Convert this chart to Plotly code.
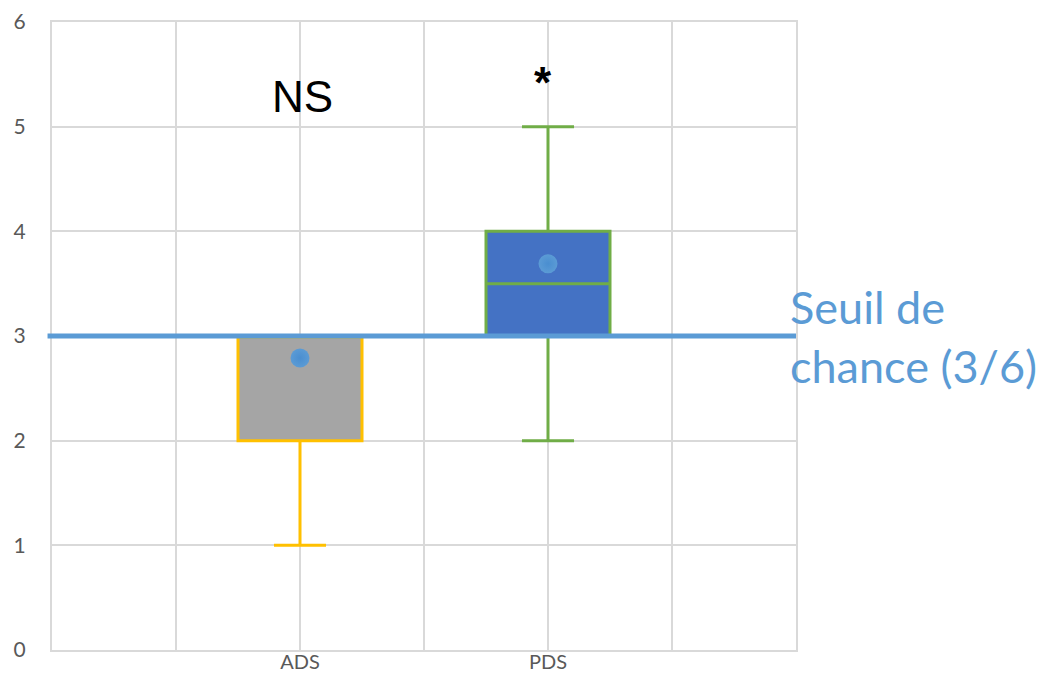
import plotly.graph_objects as go

categories = ["ADS", "PDS"]
positions = [2, 4]
lower = [1, 2]
q1 = [2, 3]
median = [3, 3.5]
q3 = [3, 4]
upper = [3, 5]
means = [2.79, 3.69]
fills = ["#A5A5A5", "#4472C4"]
lines = ["#FFC000", "#70AD47"]
threshold = 3
sig_labels = ["NS", "<b>*</b>"]
sig_y = [5.29, 5.42]

fig = go.Figure()
for i, c in enumerate(categories):
    fig.add_trace(go.Box(
        x=[positions[i]], q1=[q1[i]], median=[median[i]], q3=[q3[i]],
        lowerfence=[lower[i]], upperfence=[upper[i]],
        fillcolor=fills[i], line=dict(color=lines[i], width=3),
        width=1.0, whiskerwidth=0.42, name=c, showlegend=False,
        hoverinfo="skip",
    ))

fig.add_shape(type="line", xref="paper", yref="y", x0=-0.006, x1=1.0,
              y0=threshold, y1=threshold,
              line=dict(color="#5B9BD5", width=5), layer="above")

fig.add_trace(go.Scatter(
    x=positions, y=means, mode="markers",
    marker=dict(size=19, color="#5B9BD5", line=dict(width=0),
                gradient=dict(type="radial", color="#4A8ED0")),
    showlegend=False, hoverinfo="skip",
))

for i, t in enumerate(sig_labels):
    fig.add_annotation(x=positions[i] + (0.02 if i == 0 else -0.04), y=sig_y[i],
                       text=t, showarrow=False, xref="x", yref="y",
                       font=dict(family="Liberation Sans, Arial", size=44, color="#000000"),
                       yanchor="middle", xanchor="center")

fig.add_annotation(x=1.0, xref="paper", y=threshold, yref="y",
                   text="Seuil de<br>chance (3/6)", showarrow=False,
                   xanchor="left", yanchor="middle", align="left", xshift=-8,
                   font=dict(family="Lato", size=45, color="#5B9BD5"))

# page adds an 8px body margin; compensate so the plot area lands where the reference has it
fig.update_layout(
    width=1040, height=665,
    margin=dict(l=44, r=252, t=14, b=23),
    paper_bgcolor="white", plot_bgcolor="white",
    xaxis=dict(range=[0, 6], tickmode="array", tickvals=positions, ticktext=categories,
               showgrid=False, zeroline=False, automargin=False,
               showline=True, linecolor="#D9D9D9", linewidth=2, mirror=True,
               ticks="", tickfont=dict(family="Lato", size=20, color="#595959"),
               ticklabelstandoff=-7),
    yaxis=dict(range=[0, 6], dtick=1, showgrid=True, gridcolor="#D9D9D9", gridwidth=2,
               zeroline=False, showline=True, linecolor="#D9D9D9", linewidth=2, mirror=True,
               automargin=False,
               ticks="", tickfont=dict(family="Lato", size=21, color="#595959"),
               ticklabelstandoff=20),
)
fig.update_xaxes(minor=dict(tickmode="linear", tick0=0, dtick=1, showgrid=True,
                            gridcolor="#D9D9D9", gridwidth=2))

fig.write_html("out.html")
